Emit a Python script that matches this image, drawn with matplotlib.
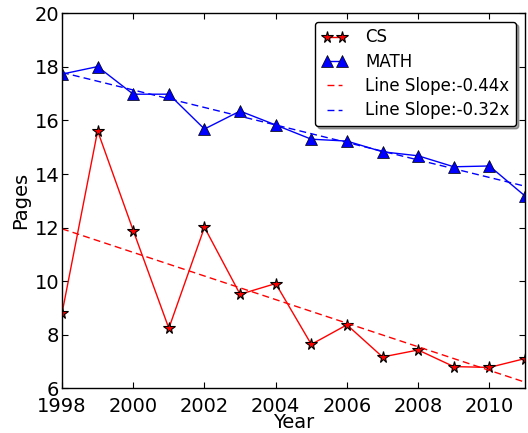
import matplotlib
matplotlib.use("Agg")
import matplotlib.pyplot as plt
import numpy as np

years = [1998, 1999, 2000, 2001, 2002, 2003, 2004, 2005, 2006, 2007, 2008, 2009, 2010, 2011]
cs_pages = [8.8, 15.61, 11.89, 8.24, 12.01, 9.51, 9.91, 7.64, 8.37, 7.17, 7.43, 6.81, 6.78, 7.11]
math_pages = [17.73, 18.01, 16.98, 16.98, 15.68, 16.35, 15.83, 15.3, 15.23, 14.83, 14.68, 14.27, 14.3, 13.18]
cs_label = "CS"
math_label = "MATH"
cs_fit_label = "Line Slope:-0.44x"
math_fit_label = "Line Slope:-0.32x"
xticks = [1998, 2000, 2002, 2004, 2006, 2008, 2010]
yticks = [6, 8, 10, 12, 14, 16, 18, 20]

plt.rcParams['font.family'] = ['DejaVu Sans']
fig = plt.figure(figsize=(5.28, 4.33), dpi=100)
ax = fig.add_axes([62 / 528, 1 - 388.3 / 433, (525 - 62) / 528, (388.3 - 13.3) / 433])

x = np.array(years, dtype=float)
ax.plot(years, cs_pages, color='red', lw=1, marker='*', markersize=8.5,
        markerfacecolor='red', markeredgecolor='black', markeredgewidth=0.8, label=cs_label)
ax.plot(years, math_pages, color='blue', lw=1, marker='^', markersize=8,
        markerfacecolor='blue', markeredgecolor='black', markeredgewidth=0.5, label=math_label)

cfit = np.polyfit(x - x[0], np.array(cs_pages), 1)
mfit = np.polyfit(x - x[0], np.array(math_pages), 1)
ax.plot(years, np.polyval(cfit, x - x[0]), color='red', lw=1, ls='--', dashes=(5, 3), label=cs_fit_label)
ax.plot(years, np.polyval(mfit, x - x[0]), color='blue', lw=1, ls='--', dashes=(5, 3), label=math_fit_label)

ax.set_xlim(1998, 2011)
ax.set_ylim(6, 20)
ax.set_xticks(xticks)
ax.set_yticks(yticks)
ax.tick_params(direction='in', top=True, right=True, length=4, labelsize=14)
ax.tick_params(axis='x', pad=6)
ax.tick_params(axis='y', pad=2)
ax.set_xlabel("Year", fontsize=14, labelpad=-2)
ax.set_ylabel("Pages", fontsize=14, labelpad=3)
for s in ax.spines.values():
    s.set_linewidth(1)

leg = ax.legend(loc='upper right', bbox_to_anchor=(516 / 528, 1 - 21.7 / 433), bbox_transform=fig.transFigure,
                fontsize=12, fancybox=True, shadow=True, numpoints=2, framealpha=1,
                handlelength=1.5, handletextpad=1.1, borderpad=0.4, labelspacing=0.38,
                borderaxespad=0)
leg.get_frame().set_edgecolor('black')

fig.savefig("out.png", dpi=100)
